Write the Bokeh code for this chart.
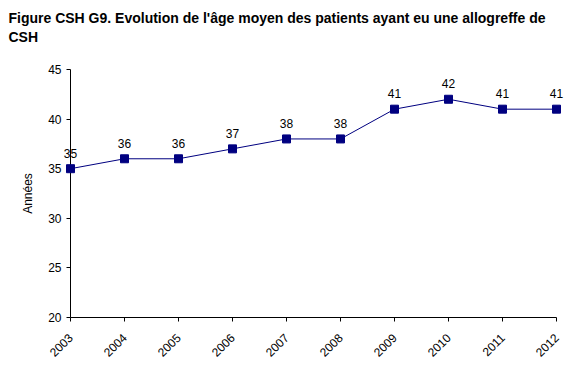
from bokeh.plotting import figure
from bokeh.models import Range1d, ColumnDataSource, FixedTicker, Title
from bokeh.core.properties import value
from bokeh.embed import file_html
from bokeh.resources import INLINE
import math

years = [2003, 2004, 2005, 2006, 2007, 2008, 2009, 2010, 2011, 2012]
ages = [35, 36, 36, 37, 38, 38, 41, 42, 41, 41]
y_ticks = [20, 25, 30, 35, 40, 45]
title_lines = ["Figure CSH G9. Evolution de l'âge moyen des patients ayant eu une allogreffe de", "CSH"]
y_label = "Années"

FONT = "Liberation Sans"

p = figure(width=576, height=380, output_backend="svg", toolbar_location=None,
           x_range=Range1d(2003, 2012), y_range=Range1d(20, 45),
           min_border_left=70, min_border_right=20, min_border_top=69, min_border_bottom=63)
p.title = None
spacer = Title(text=" ", text_font=FONT, text_font_size="12px", standoff=8)
p.add_layout(spacer, "above")
for i, line in enumerate(reversed(title_lines)):
    t = Title(text=line, align="left", text_font=FONT, text_font_size="14px",
              text_font_style="bold", text_color="black", offset=-62,
              standoff=1 if i == 0 else 2)
    p.add_layout(t, "above")

src = ColumnDataSource(dict(x=years, y=ages, lab=[str(a) for a in ages]))
p.line("x", "y", source=src, line_color="#000080", line_width=1, level="overlay")
p.scatter("x", "y", source=src, marker="square", size=8, fill_color="#000080",
          line_color="#000080", level="overlay")
p.text("x", "y", text="lab", source=src, y_offset=-11, text_align="center",
       text_baseline="bottom", text_font=value(FONT), text_font_size="12px",
       text_color="black", level="overlay")

p.xgrid.visible = False
p.ygrid.visible = False
p.outline_line_color = None

p.xaxis.ticker = FixedTicker(ticks=years)
p.xaxis.major_label_orientation = math.pi / 4
p.xaxis.major_label_standoff = 14
p.yaxis.ticker = FixedTicker(ticks=y_ticks)
for ax in (p.xaxis[0], p.yaxis[0]):
    ax.axis_line_color = "black"
    ax.major_tick_line_color = "black"
    ax.major_tick_in = 0
    ax.major_tick_out = 4
    ax.minor_tick_line_color = None
    ax.major_label_text_font = FONT
    ax.major_label_text_font_size = "12px"
    ax.major_label_text_color = "black"
p.yaxis.axis_label = y_label
p.yaxis.axis_label_text_font = FONT
p.yaxis.axis_label_text_font_size = "12px"
p.yaxis.axis_label_text_font_style = "normal"
p.yaxis.axis_label_text_color = "black"
p.yaxis.axis_label_standoff = 10

open("out.html", "w").write(file_html(p, INLINE))
